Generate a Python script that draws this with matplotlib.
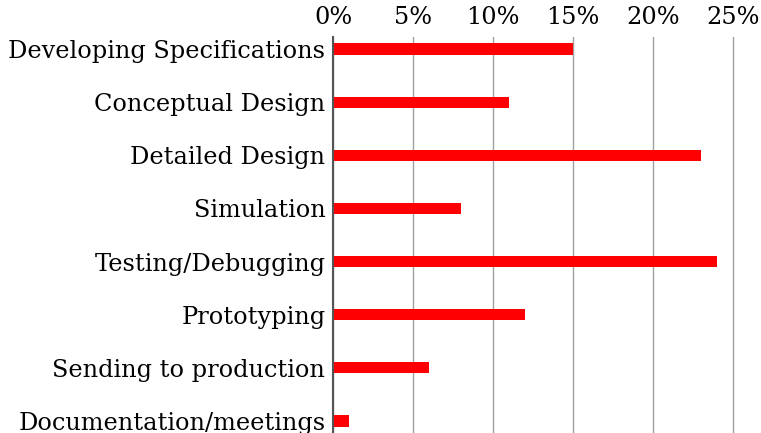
import matplotlib.pyplot as plt
from matplotlib.ticker import FuncFormatter

categorias = ["Developing Specifications", "Conceptual Design", "Detailed Design",
              "Simulation", "Testing/Debugging", "Prototyping",
              "Sending to production", "Documentation/meetings"]
percentuais = [15, 11, 23, 8, 24, 12, 6, 1]
ticks_x = [0, 5, 10, 15, 20, 25]

plt.rcParams['font.family'] = ['DejaVu Serif']

fig = plt.figure(figsize=(7.61, 4.33), dpi=100)
ax = fig.add_axes([333 / 761, 0, (760 - 333) / 761, (433 - 37) / 433])

pos = list(range(len(categorias)))
ax.barh(pos, percentuais, height=0.21, color='#ff0000', zorder=3)

ax.set_xlim(0, (760 - 333) / 16)
ax.set_ylim(len(categorias) - 1 + 0.226, -0.226)
ax.set_xticks(ticks_x)
ax.xaxis.set_major_formatter(FuncFormatter(lambda v, p: f"{v:.0f}%"))
ax.xaxis.tick_top()
ax.set_yticks(pos)
ax.set_yticklabels(categorias)
ax.tick_params(axis='both', length=0, labelsize=17.3, colors='black')
ax.tick_params(axis='y', pad=5.5)
ax.tick_params(axis='x', pad=6)

ax.grid(axis='x', color='#a0a0a0', linewidth=1, zorder=0)
for lado in ['top', 'right', 'bottom']:
    ax.spines[lado].set_visible(False)
ax.spines['left'].set_color('#555555')
ax.spines['left'].set_linewidth(1.5)
ax.spines['left'].set_zorder(4)

fig.savefig('out.png', dpi=100)
